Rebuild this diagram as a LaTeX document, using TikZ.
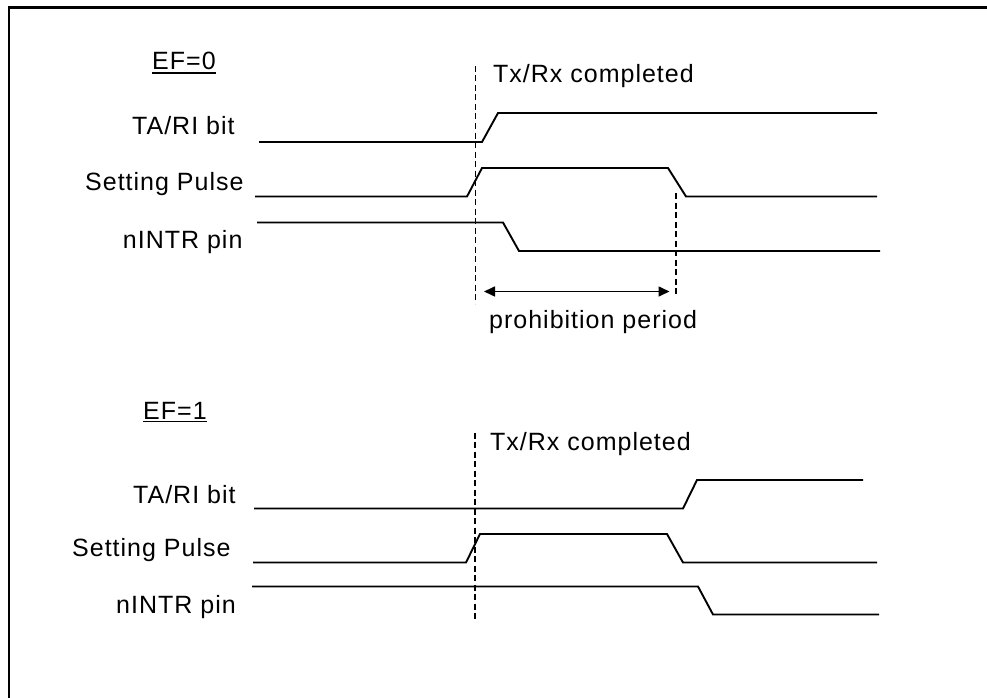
\documentclass[tikz,border=0pt]{standalone}
\usepackage{fontspec}
\setmainfont{Liberation Sans}
\newfontfamily\lblfont[LetterSpace=4]{Liberation Sans}
\usetikzlibrary{arrows.meta}
\begin{document}
\begin{tikzpicture}[x=1pt,y=-1pt,
  lbl/.style={font=\lblfont\fontsize{25}{30}\selectfont, inner sep=0pt, anchor=base west},
  sig/.style={line width=1.9pt, line join=miter},
  vdash/.style={line width=1.8pt, dash pattern=on 6pt off 3.5pt},
  frame/.style={line width=2.6pt},
  ul/.style={line width=1.6pt},
  span/.style={line width=1.6pt, {Triangle[length=11pt,width=10pt]}-{Triangle[length=11pt,width=10pt]}}]
\useasboundingbox (0,0) rectangle (987,698);
% frame (top and left edges visible)
\draw[frame] (9,698) -- (9,7.5) -- (987,7.5);

% ---------- EF=0 ----------
\node[lbl] (ef0) at (152,70) {EF=0};
\draw[ul] ([yshift=-3pt]ef0.base west) -- ([yshift=-3pt]ef0.base east);
\node[lbl] (ta0) at (132,135) {TA/RI bit};
\node[lbl] (sp0) at (85,190) {Setting Pulse};
\node[lbl] (ni0) at (122.7,248) {nINTR pin};
\node[lbl] (tx0) at (493,82.3) {Tx/Rx completed};
\node[lbl] (pp0) at (489,328.3) {prohibition period};

\draw[sig] (259,142) -- (482,142) -- (498,113) -- (877,113);
\draw[sig] (255,196.5) -- (467,196.5) -- (482,168) -- (668,168) -- (686,196.5) -- (877,196.5);
\draw[sig] (257,222.5) -- (503,222.5) -- (519,251) -- (880,251);

\draw[vdash] (475.5,66) -- (475.5,303.5);
\draw[vdash] (676,193) -- (676,296);
\coordinate (pa) at (484,291.5);
\coordinate (pb) at (669.5,291.5);
\draw[span] (pa) -- (pb);

% ---------- EF=1 ----------
\node[lbl] (ef1) at (143,419.3) {EF=1};
\draw[ul] ([yshift=-2pt]ef1.base west) -- ([yshift=-2pt]ef1.base east);
\node[lbl] (ta1) at (133,503) {TA/RI bit};
\node[lbl] (sp1) at (72,556.7) {Setting Pulse};
\node[lbl] (ni1) at (116,613.3) {nINTR pin};
\node[lbl] (tx1) at (490,450) {Tx/Rx completed};

\draw[sig] (254,508.5) -- (683,508.5) -- (697,480) -- (863,480);
\draw[sig] (253,562.5) -- (466,562.5) -- (480,534) -- (667,534) -- (683,562.5) -- (877,562.5);
\draw[sig] (252,586.5) -- (698,586.5) -- (713,614.5) -- (879,614.5);

\draw[vdash] (475,432.5) -- (475,622);
\end{tikzpicture}
\end{document}
